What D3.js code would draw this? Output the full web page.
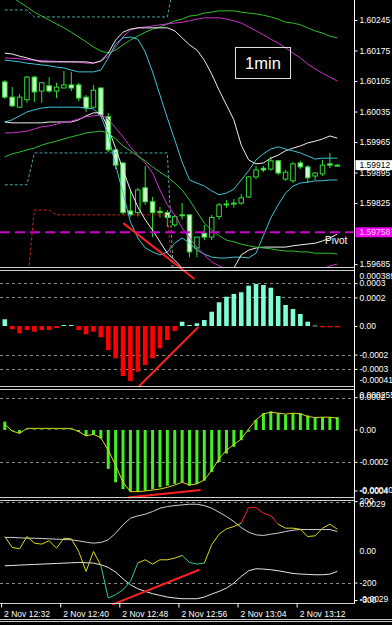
<html>
<script src="https://cdnjs.cloudflare.com/ajax/libs/d3/7.8.5/d3.min.js"></script>
<style>
    body { margin: 0; background: #000; }
    text { font-family: 'Liberation Sans', Arial, sans-serif; }
</style>
<body>
<div id="chart"></div>
<script>
// ---- data ----
var timeLabels = ["2 Nov 12:32", "2 Nov 12:40", "2 Nov 12:48", "2 Nov 12:56", "2 Nov 13:04", "2 Nov 13:12"];
var timeTickBars = [0, 8, 16, 24, 32, 40];

var open  = [1.60103,1.60068,1.60045,1.60062,1.60114,1.60082,1.60094,1.60082,1.60089,1.60096,1.60096,1.60068,1.60045,1.60089,1.60023,1.59947,1.59917,1.59807,1.59803,1.59860,1.59828,1.59806,1.59803,1.59775,1.59798,1.59798,1.59722,1.59756,1.59747,1.59794,1.59821,1.59823,1.59825,1.59839,1.59885,1.59905,1.59903,1.59922,1.59880,1.59876,1.59917,1.59908,1.59887,1.59892,1.59915,1.59912];
var high  = [1.60107,1.60091,1.60075,1.60117,1.60117,1.60103,1.60114,1.60101,1.60128,1.60126,1.60101,1.60073,1.60096,1.60091,1.60032,1.59949,1.59919,1.59855,1.59860,1.59910,1.59839,1.59816,1.59809,1.59798,1.59825,1.59798,1.59747,1.59775,1.59798,1.59825,1.59832,1.59834,1.59846,1.59887,1.59910,1.59910,1.59931,1.59924,1.59901,1.59919,1.59922,1.59912,1.59896,1.59924,1.59940,1.59915];
var low   = [1.60064,1.60045,1.60043,1.60055,1.60057,1.60055,1.60078,1.60066,1.60089,1.60082,1.60059,1.60034,1.60043,1.60023,1.59942,1.59903,1.59798,1.59794,1.59794,1.59821,1.59747,1.59792,1.59770,1.59770,1.59787,1.59701,1.59701,1.59740,1.59740,1.59787,1.59814,1.59814,1.59821,1.59837,1.59880,1.59896,1.59899,1.59889,1.59876,1.59871,1.59903,1.59871,1.59878,1.59887,1.59905,1.59910];
var close = [1.60068,1.60048,1.60068,1.60114,1.60080,1.60101,1.60082,1.60091,1.60096,1.60089,1.60066,1.60043,1.60084,1.60027,1.59947,1.59912,1.59803,1.59798,1.59855,1.59828,1.59803,1.59803,1.59792,1.59794,1.59796,1.59713,1.59747,1.59747,1.59792,1.59821,1.59823,1.59825,1.59837,1.59885,1.59901,1.59901,1.59922,1.59894,1.59896,1.59915,1.59908,1.59883,1.59894,1.59912,1.59912,1.59912];

var greenHi   = [1.60309,1.60298,1.60286,1.60275,1.60263,1.60254,1.60245,1.60236,1.60227,1.60217,1.60206,1.60195,1.60183,1.60174,1.60169,1.60176,1.60188,1.60199,1.60208,1.60217,1.60224,1.60229,1.60236,1.60243,1.60247,1.60254,1.60256,1.60261,1.60263,1.60266,1.60266,1.60266,1.60263,1.60261,1.60259,1.60256,1.60252,1.60247,1.60240,1.60238,1.60234,1.60227,1.60220,1.60215,1.60208,1.60204];
var magentaHi = [1.60158,1.60157,1.60156,1.60154,1.60153,1.60152,1.60151,1.60150,1.60149,1.60149,1.60148,1.60146,1.60146,1.60151,1.60162,1.60183,1.60206,1.60222,1.60227,1.60229,1.60231,1.60234,1.60236,1.60238,1.60240,1.60243,1.60247,1.60250,1.60250,1.60250,1.60247,1.60243,1.60238,1.60229,1.60220,1.60211,1.60201,1.60192,1.60181,1.60169,1.60158,1.60144,1.60133,1.60123,1.60114,1.60105];
var whiteHi   = [1.60169,1.60167,1.60162,1.60158,1.60153,1.60149,1.60149,1.60149,1.60149,1.60149,1.60149,1.60149,1.60146,1.60151,1.60169,1.60199,1.60217,1.60224,1.60227,1.60227,1.60227,1.60227,1.60227,1.60220,1.60204,1.60188,1.60176,1.60153,1.60121,1.60084,1.60050,1.60016,1.59958,1.59924,1.59915,1.59917,1.59928,1.59935,1.59945,1.59951,1.59956,1.59963,1.59967,1.59972,1.59979,1.59974];
var cyanHi    = [1.60153,1.60151,1.60149,1.60146,1.60144,1.60142,1.60140,1.60137,1.60135,1.60130,1.60126,1.60126,1.60126,1.60130,1.60158,1.60190,1.60204,1.60206,1.60201,1.60172,1.60126,1.60073,1.60020,1.59970,1.59919,1.59878,1.59871,1.59864,1.59853,1.59844,1.59848,1.59857,1.59878,1.59899,1.59924,1.59938,1.59949,1.59954,1.59949,1.59945,1.59940,1.59933,1.59926,1.59928,1.59928,1.59928];
var cyanLo    = [1.60011,1.60016,1.60025,1.60034,1.60039,1.60043,1.60045,1.60045,1.60045,1.60045,1.60045,1.60043,1.60041,1.60025,1.59981,1.59912,1.59848,1.59782,1.59745,1.59722,1.59713,1.59706,1.59713,1.59733,1.59745,1.59733,1.59717,1.59708,1.59701,1.59699,1.59699,1.59701,1.59701,1.59699,1.59710,1.59750,1.59791,1.59821,1.59848,1.59864,1.59871,1.59873,1.59876,1.59876,1.59878,1.59878];
var whiteLo   = [1.60011,1.60009,1.60009,1.60009,1.60009,1.60009,1.60011,1.60011,1.60011,1.60011,1.60016,1.60025,1.60032,1.60032,1.59997,1.59951,1.59901,1.59855,1.59816,1.59787,1.59763,1.59736,1.59710,1.59694,1.59676,1.59660,1.59649,1.59644,1.59644,1.59649,1.59658,1.59676,1.59706,1.59717,1.59722,1.59724,1.59724,1.59724,1.59724,1.59727,1.59729,1.59731,1.59733,1.59738,1.59745,1.59754];
var magentaLo = [1.59986,1.59986,1.59988,1.59990,1.59995,1.60000,1.60002,1.60006,1.60011,1.60013,1.60018,1.60023,1.60025,1.60027,1.60018,1.59997,1.59977,1.59954,1.59935,1.59917,1.59894,1.59855,1.59821,1.59798,1.59768,1.59745,1.59724,1.59706,1.59690,1.59681,1.59674,1.59667,1.59660,1.59655,1.59653,1.59651,1.59651,1.59653,1.59655,1.59658,1.59662,1.59665,1.59669,1.59674,1.59681,1.59685];
var greenLo   = [1.59931,1.59938,1.59942,1.59947,1.59951,1.59958,1.59963,1.59967,1.59972,1.59977,1.59981,1.59986,1.59988,1.59990,1.59986,1.59972,1.59956,1.59945,1.59933,1.59922,1.59908,1.59896,1.59885,1.59871,1.59855,1.59832,1.59805,1.59779,1.59763,1.59750,1.59740,1.59736,1.59731,1.59727,1.59724,1.59722,1.59720,1.59717,1.59715,1.59715,1.59713,1.59713,1.59710,1.59710,1.59710,1.59708];

var channelHi  = [1.60268,1.60268,1.60268,1.60268,1.60252,1.60252,1.60252,1.60252,1.60252,1.60252,1.60252,1.60252,1.60252,1.60252,1.60252,1.60252,1.60252,1.60252,1.60252,1.60252,1.60252,1.60252,1.60252,1.60340,1.60340,1.60340,1.60340,1.60340,1.60340,1.60340,1.60340,1.60340,1.60340,1.60340,1.60340,1.60340,1.60340,1.60340,1.60340,1.60340,1.60340,1.60340,1.60340,1.60340,1.60340,1.60340];
var channelLo  = [1.59867,1.59867,1.59867,1.59867,1.59940,1.59940,1.59940,1.59940,1.59940,1.59940,1.59940,1.59940,1.59940,1.59940,1.59940,1.59940,1.59940,1.59940,1.59940,1.59940,1.59940,1.59940,1.59940,1.59600,1.59600,1.59600,1.59600,1.59600,1.59600,1.59600,1.59600,1.59600,1.59600,1.59600,1.59600,1.59600,1.59600,1.59600,1.59600,1.59600,1.59600,1.59600,1.59600,1.59600,1.59600,1.59600];
var channelRed = [1.59630,1.59630,1.59630,1.59630,1.59809,1.59809,1.59809,1.59798,1.59798,1.59798,1.59798,1.59798,1.59798,1.59798,1.59798,1.59798,1.59798,1.59798,1.59798,1.59798,1.59798,1.59798,1.59798,1.59600,1.59600,1.59600,1.59600,1.59600,1.59600,1.59600,1.59600,1.59600,1.59600,1.59600,1.59600,1.59600,1.59600,1.59600,1.59600,1.59600,1.59600,1.59600,1.59600,1.59600,1.59600,1.59600];
var pivot = 1.59758;

var osma = [0.000047,-0.000023,-0.000051,-0.000028,-0.000040,-0.000028,-0.000028,-0.000014,0.000007,0.000007,-0.000028,-0.000058,-0.000040,-0.000079,-0.000168,-0.000226,-0.000350,-0.000385,-0.000320,-0.000273,-0.000226,-0.000156,-0.000098,-0.000035,0.000030,0.000007,0.000019,0.000042,0.000100,0.000166,0.000205,0.000224,0.000236,0.000282,0.000294,0.000287,0.000268,0.000210,0.000147,0.000119,0.000084,0.000030,0.000003,-0.000009,-0.000009,-0.000009];

var macd   = [0.000052,-0.000005,-0.000021,0.000003,0.000004,0.000004,0.000004,0.000004,0.000004,0.000004,-0.000012,-0.000036,-0.000031,-0.000052,-0.000240,-0.000323,-0.000365,-0.000381,-0.000381,-0.000375,-0.000365,-0.000354,-0.000344,-0.000333,-0.000323,-0.000344,-0.000333,-0.000313,-0.000260,-0.000198,-0.000146,-0.000104,-0.000063,-0.000010,0.000063,0.000104,0.000115,0.000104,0.000094,0.000104,0.000104,0.000090,0.000079,0.000079,0.000079,0.000079];
var signal = [0.000035,-0.000006,-0.000021,0.000010,0.000010,0.000010,0.000010,0.000010,0.000010,0.000010,-0.000010,-0.000036,-0.000027,-0.000048,-0.000125,-0.000219,-0.000323,-0.000381,-0.000381,-0.000377,-0.000371,-0.000365,-0.000354,-0.000340,-0.000323,-0.000340,-0.000333,-0.000308,-0.000250,-0.000177,-0.000125,-0.000090,-0.000056,0.000006,0.000063,0.000098,0.000110,0.000104,0.000098,0.000104,0.000100,0.000083,0.000077,0.000079,0.000079,0.000073];

var cci      = [28.6,-25.3,-31.9,28.6,-4.1,-9,7.4,-28.6,20.4,17.2,-45,-143,-45,-113.6,-273.7,-257.4,-232.8,-192,-102.1,-85.8,-107,-85.8,-85.8,-77.6,-64.5,-98.9,-107,-102.1,-12.3,40,66.2,77.6,94,170.7,170.7,143,131.5,89.1,69.5,69.5,64.5,28.6,31.9,69.5,89.1,64.5];
var cciState = [0,0,0,0,0,0,0,0,0,0, 0,0,0,0,2,2,2,2,2,0, 0,0,0,0,0,2,2,2,0,0, 0,0,0,1,1,1,1,1,0,0, 0,0,0,0,0,0];
var cciUp    = [23.7,24,22,20.4,20,18.8,17.2,15.5,13.9,12.3,7.4,0.8,-4.1,-0.8,12.3,45,85.8,118.5,129.9,138,151,167.5,175.6,180.5,183.8,187,187,180.5,167.5,147.9,126.6,102.1,72.7,49.8,36.8,33.5,40,45,53.1,59.6,62.9,62.9,62.9,62.9,62.9,53.1];
var cciLo    = [-115.2,-113.6,-111.9,-110.3,-108.7,-107,-105.4,-103.8,-102.1,-100.5,-98.9,-100.5,-102.1,-110.3,-123.4,-146.2,-178.9,-208.3,-228,-241,-252.5,-260.6,-268.8,-273.7,-277,-277,-277,-268.8,-254.1,-241,-224.7,-200.2,-167.5,-139.7,-129.9,-131.5,-134.8,-139.7,-146.2,-152.8,-156,-157.7,-159.3,-159.3,-156,-143];

// hand drawn divergence lines: [bar, value] pairs
var mainTrend = [[16.04, 1.59779], [25.67, 1.59651]];
var osmaTrend = [[18.07, -0.000427], [26.2, -0.000007]];
var macdTrend = [[16.7, -0.000417], [26.5, -0.000371]];
var cciTrend  = [[14.55, -306], [26.35, -134.8]];

var mainTicks = [1.60245, 1.60175, 1.60105, 1.60035, 1.59965, 1.59895, 1.59825, 1.59685];
var osmaTicks = [0.0003, 0.0002, 0, -0.0002, -0.0003];
var osmaRange = [-0.00041, 0.000389];
var macdTicks = [0.0002, 0, -0.0002, -0.0004];
var macdRange = [-0.000404, 0.000255];
var cciTicks  = [200, -200, -300];
var momTicks  = [0.0029, 0, -0.0029];

// ---- layout ----
var width = 392, height = 625, axisX = 354.5;
var svg = d3.select("#chart").append("svg")
    .attr("width", width).attr("height", height)
    .style("background", "#000");

var x = d3.scaleLinear().domain([0, 45]).range([4.8, 337.3]);
var yMain = d3.scaleLinear().domain([1.59685, 1.60245]).range([264.1, 20]);
var yOsma = d3.scaleLinear().domain(osmaRange).range([384.6, 270.4]);
var yMacd = d3.scaleLinear().domain(macdRange).range([495.4, 388.7]);
var yCci  = d3.scaleLinear().domain([-300, 200]).range([603.4, 501.6]);
var yMom  = d3.scaleLinear().domain([-0.0029, 0.0029]).range([599.5, 504]);

var panels = [
    {id: "p0", top: 0, bottom: 267},
    {id: "p1", top: 270.5, bottom: 386.5},
    {id: "p2", top: 389.5, bottom: 497.5},
    {id: "p3", top: 500.5, bottom: 603.5}
];
var defs = svg.append("defs");
panels.forEach(function(p) {
    defs.append("clipPath").attr("id", p.id)
        .append("rect").attr("x", 0).attr("y", p.top).attr("width", axisX).attr("height", p.bottom - p.top);
});
var g0 = svg.append("g").attr("clip-path", "url(#p0)");
var g1 = svg.append("g").attr("clip-path", "url(#p1)");
var g2 = svg.append("g").attr("clip-path", "url(#p2)");
var g3 = svg.append("g").attr("clip-path", "url(#p3)");

function grid(g, vals, y) {
    g.selectAll(null).data(vals).enter().append("line")
        .attr("x1", 0).attr("x2", axisX)
        .attr("y1", function(d) { return Math.round(y(d)) + 0.5; })
        .attr("y2", function(d) { return Math.round(y(d)) + 0.5; })
        .attr("stroke", "#8c8c8c").attr("stroke-dasharray", "3,3");
}
function line(g, data, y, color, dash, w) {
    g.append("path").datum(data)
        .attr("d", d3.line().x(function(d, i) { return x(i); }).y(function(d) { return y(d); }))
        .attr("fill", "none").attr("stroke", color)
        .attr("stroke-width", w || 1)
        .attr("stroke-dasharray", dash || null);
}
function trend(pts, y) {
    svg.append("path").datum(pts)
        .attr("d", d3.line().x(function(d) { return x(d[0]); }).y(function(d) { return y(d[1]); }))
        .attr("stroke", "#ff2020").attr("stroke-width", 2).attr("fill", "none");
}

// ---- main chart ----
var candleIdx = d3.range(open.length);
var cg = g0.append("g");
cg.selectAll(".wick").data(candleIdx).enter().append("line")
    .attr("x1", function(i) { return x(i); }).attr("x2", function(i) { return x(i); })
    .attr("y1", function(i) { return yMain(high[i]); }).attr("y2", function(i) { return yMain(low[i]); })
    .attr("stroke", "#33dd33");
cg.selectAll(".body").data(candleIdx).enter().append("rect")
    .attr("x", function(i) { return x(i) - 2.25; })
    .attr("width", 4.5)
    .attr("y", function(i) { return yMain(Math.max(open[i], close[i])); })
    .attr("height", function(i) { return Math.max(1, Math.abs(yMain(open[i]) - yMain(close[i]))); })
    .attr("fill", function(i) { return close[i] > open[i] ? "#000" : "#c8ffc8"; })
    .attr("stroke", "#33dd33");

line(g0, channelHi, yMain, "#4fa3a3", "3,2");
line(g0, channelLo, yMain, "#4fa3a3", "3,2");
line(g0, channelRed, yMain, "#cc2222", "3,2");
line(g0, greenHi, yMain, "#2fc02f");
line(g0, magentaHi, yMain, "#cc33cc");
line(g0, whiteHi, yMain, "#eeeeee");
line(g0, cyanHi, yMain, "#40c4d4");
line(g0, cyanLo, yMain, "#40c4d4");
line(g0, whiteLo, yMain, "#eeeeee");
line(g0, magentaLo, yMain, "#cc33cc");
line(g0, greenLo, yMain, "#2fc02f");

g0.append("line").attr("x1", 0).attr("x2", axisX)
    .attr("y1", yMain(pivot)).attr("y2", yMain(pivot))
    .attr("stroke", "#cc00cc").attr("stroke-width", 2).attr("stroke-dasharray", "10,5");
svg.append("text").attr("x", 325).attr("y", yMain(pivot) + 12)
    .attr("fill", "#fff").style("font-size", "10px").text("Pivot");

svg.append("rect").attr("x", 235.5).attr("y", 47.5).attr("width", 55).attr("height", 31)
    .attr("fill", "none").attr("stroke", "#dddddd");
svg.append("text").attr("x", 263).attr("y", 63).attr("dy", "0.35em")
    .attr("text-anchor", "middle").attr("fill", "#fff").style("font-size", "16.5px").text("1min");

// ---- OsMA histogram ----
grid(g1, [0.0003, 0.0002, -0.0002, -0.0003], yOsma);
g1.selectAll(".ob").data(osma).enter().append("rect")
    .attr("x", function(d, i) { return x(i) - 2.3; })
    .attr("width", 4.6)
    .attr("y", function(d) { return Math.min(yOsma(0), yOsma(d)); })
    .attr("height", function(d) { return Math.max(0.8, Math.abs(yOsma(d) - yOsma(0))); })
    .attr("fill", function(d) { return d >= 0 ? "#7fffd4" : "#ff0000"; });

// ---- MACD ----
grid(g2, [0.0002, -0.0002], yMacd);
g2.selectAll(".mb").data(macd).enter().append("rect")
    .attr("x", function(d, i) { return x(i) - 1.5; })
    .attr("width", 3)
    .attr("y", function(d) { return Math.min(yMacd(0), yMacd(d)); })
    .attr("height", function(d) { return Math.max(0.5, Math.abs(yMacd(d) - yMacd(0))); })
    .attr("fill", "#44ee22");
line(g2, signal, yMacd, "#d8d820");

// ---- CCI ----
grid(g3, [200, -200, -300], yCci);
line(g3, cciUp, yCci, "#cfcfcf");
line(g3, cciLo, yCci, "#e6e6e6");
var stateColor = ["#d8d820", "#ff2020", "#30c890"];
g3.selectAll(".cs").data(d3.range(1, cci.length)).enter().append("line")
    .attr("x1", function(i) { return x(i - 1); }).attr("x2", function(i) { return x(i); })
    .attr("y1", function(i) { return yCci(cci[i - 1]); }).attr("y2", function(i) { return yCci(cci[i]); })
    .attr("stroke", function(i) { return stateColor[cciState[i]]; });

trend(mainTrend, yMain);
trend(osmaTrend, yOsma);
trend(macdTrend, yMacd);
trend(cciTrend, yCci);

// ---- frames ----
[267.5, 270.5, 386.5, 389.5, 497.5, 500.5, 603.5].forEach(function(yy) {
    svg.append("line").attr("x1", 0).attr("x2", axisX).attr("y1", yy).attr("y2", yy).attr("stroke", "#d0d0d0");
});
[619.5, 621.5].forEach(function(yy) {
    svg.append("line").attr("x1", 0).attr("x2", width).attr("y1", yy).attr("y2", yy).attr("stroke", "#c8c8c8");
});
svg.append("line").attr("x1", axisX).attr("x2", axisX).attr("y1", 0).attr("y2", 603.5).attr("stroke", "#ffffff");

// ---- right axes ----
function rightAxis(y, ticks, fmt, clampTop, clampBottom) {
    var a = svg.append("g").attr("transform", "translate(" + axisX + ",0)")
        .call(d3.axisRight(y).tickValues(ticks).tickFormat(fmt).tickSize(3).tickPadding(2));
    a.select(".domain").remove();
    a.selectAll("line").attr("stroke", "#fff");
    a.selectAll("text").attr("fill", "#fff").style("font-size", "8.5px")
        .style("font-family", "'Liberation Sans', Arial, sans-serif");
    if (clampTop != null) {
        a.selectAll(".tick").attr("transform", function(d) {
            return "translate(0," + Math.max(clampTop, Math.min(clampBottom, y(d))) + ")";
        });
    }
    return a;
}
function plainLabel(yy, txt) {
    svg.append("text").attr("x", axisX + 5).attr("y", yy).attr("dy", "0.32em")
        .attr("fill", "#fff").style("font-size", "8.5px").text(txt);
}
var numFmt = function(d) { return d === 0 ? "0.00" : String(d); };

rightAxis(yMain, mainTicks, d3.format(".5f"));
rightAxis(yOsma, osmaTicks, numFmt);
plainLabel(276, String(osmaRange[1]));
plainLabel(380.5, String(osmaRange[0]));
rightAxis(yMacd, macdTicks, numFmt, 395, 491);
plainLabel(395.5, String(macdRange[1]));
plainLabel(490, String(macdRange[0]));
rightAxis(yCci, cciTicks, String, 500, 600.5);
momTicks.forEach(function(v) { plainLabel(yMom(v), numFmt(v)); });

// price boxes
var last = close[close.length - 1];
svg.append("rect").attr("x", axisX + 1).attr("y", yMain(last) - 5).attr("width", 40).attr("height", 10).attr("fill", "#fff");
svg.append("text").attr("x", axisX + 5).attr("y", yMain(last)).attr("dy", "0.35em")
    .attr("fill", "#000").style("font-size", "8.5px").text(d3.format(".5f")(last));
svg.append("rect").attr("x", axisX + 1).attr("y", yMain(pivot) - 5).attr("width", 40).attr("height", 10).attr("fill", "#ee00ee");
svg.append("text").attr("x", axisX + 5).attr("y", yMain(pivot)).attr("dy", "0.35em")
    .attr("fill", "#ffd0ff").style("font-size", "8.5px").text(d3.format(".5f")(pivot));

// ---- time axis ----
var xt = d3.scaleLinear().domain(x.domain()).range(x.range().map(function(v) { return v - 3.7; }));
var ta = svg.append("g").attr("transform", "translate(0,603.5)")
    .call(d3.axisBottom(xt).tickValues(timeTickBars)
        .tickFormat(function(d, i) { return timeLabels[i]; }).tickSize(4).tickPadding(3));
ta.select(".domain").remove();
ta.selectAll("line").attr("stroke", "#fff");
ta.selectAll("text").attr("fill", "#fff").attr("text-anchor", "start").attr("x", 2.5)
    .style("font-size", "8.5px").style("font-family", "'Liberation Sans', Arial, sans-serif");
</script>
</body>
</html>
